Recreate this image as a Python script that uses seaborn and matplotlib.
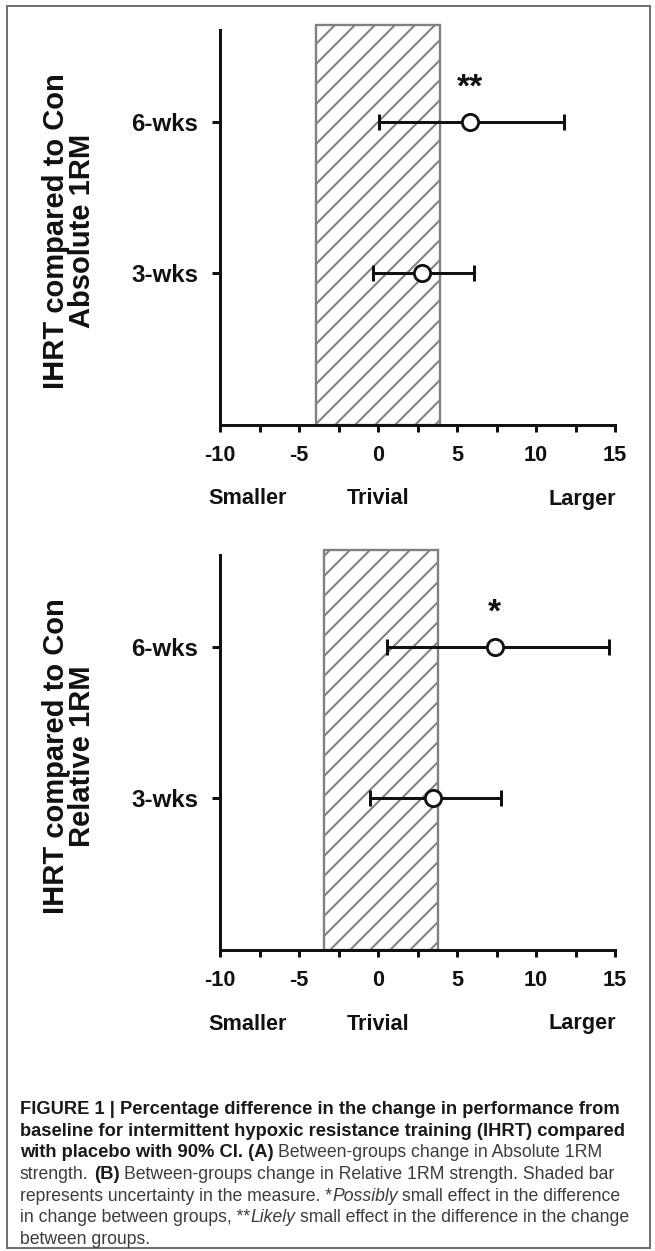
import matplotlib
matplotlib.use('Agg')
import matplotlib.pyplot as plt
import matplotlib.transforms as mtransforms
from matplotlib.patches import Rectangle
import numpy as np
import pandas as pd
import seaborn as sns

# ---- data ----
weeks = ['3-wks', '6-wks']
week_pos = [1, 2]

abs_mean = [2.8, 5.8]
abs_lo = [-0.3, 0.05]
abs_hi = [6.1, 11.8]
abs_trivial = (-3.9, 3.95)
abs_star = ['', '**']

rel_mean = [3.5, 7.4]
rel_lo = [-0.5, 0.6]
rel_hi = [7.8, 14.6]
rel_trivial = (-3.4, 3.8)
rel_star = ['', '*']

panel_titles = [('IHRT compared to Con', 'Absolute 1RM'),
                ('IHRT compared to Con', 'Relative 1RM')]

effect_labels = ['Smaller', 'Trivial', 'Larger']
effect_x = [-8.25, 0, 12.9]

xticks = [-10, -5, 0, 5, 10, 15]

caption = [
    [('FIGURE 1 | Percentage difference in the change in performance from', 'bold', 'normal')],
    [('baseline for intermittent hypoxic resistance training (IHRT) compared', 'bold', 'normal')],
    [('with placebo with 90% CI. (A)', 'bold', 'normal'),
     (' Between-groups change in Absolute 1RM', 'normal', 'normal')],
    [('strength.', 'normal', 'normal'), (' (B)', 'bold', 'normal'),
     (' Between-groups change in Relative 1RM strength. Shaded bar', 'normal', 'normal')],
    [('represents uncertainty in the measure. *', 'normal', 'normal'),
     ('Possibly', 'normal', 'italic'),
     (' small effect in the difference', 'normal', 'normal')],
    [('in change between groups, **', 'normal', 'normal'),
     ('Likely', 'normal', 'italic'),
     (' small effect in the difference in the change', 'normal', 'normal')],
    [('between groups.', 'normal', 'normal')],
]

# ---- style ----
sns.set_style('ticks')
plt.rcParams['font.family'] = ['Liberation Sans', 'DejaVu Sans']
plt.rcParams['hatch.linewidth'] = 1.2
plt.rcParams['hatch.color'] = '#808080'

DPI = 120
W, H = 655, 1251
fig = plt.figure(figsize=(W / DPI, H / DPI), dpi=DPI)
fig.patch.set_facecolor('white')

ink = '#111111'
grey = '#808080'


def fx(px):
    return px / W


def fy(px):
    return 1 - px / H


def draw_panel(bottom_px, mean, lo, hi, trivial, stars, title, star_y):
    ax = fig.add_axes([fx(220), fy(bottom_px), 395 / W, 400 / H])
    df = pd.DataFrame({'week': weeks, 'pos': week_pos, 'mean': mean,
                       'lo': lo, 'hi': hi})

    # trivial band
    band = ax.axvspan(trivial[0], trivial[1], ymin=0, ymax=1, facecolor='white',
                      edgecolor=grey, hatch='//', linewidth=1.4, zorder=1)
    band.set_clip_on(False)

    # 90% CI
    ax.errorbar(df['mean'], df['pos'],
                xerr=[df['mean'] - df['lo'], df['hi'] - df['mean']],
                fmt='none', ecolor=ink, elinewidth=1.8, capsize=5,
                capthick=1.8, zorder=3)
    sns.scatterplot(data=df, x='mean', y='pos', ax=ax, s=95, marker='o',
                    facecolor='white', edgecolor=ink, linewidth=1.7,
                    zorder=4, clip_on=False)

    for xv, yv, st in zip(mean, star_y, stars):
        if st:
            ax.text(xv, yv, st, ha='center', va='baseline', fontsize=20,
                    fontweight='bold', color=ink)

    ax.set_xlim(-10, 15)
    ax.set_ylim(0, 2.64)
    ax.set_xticks(xticks)
    ax.set_xticks(np.arange(-7.5, 15, 5), minor=True)
    ax.set_xticklabels([str(t) for t in xticks], fontsize=13,
                       fontweight='bold', color=ink)
    ax.set_yticks(week_pos)
    ax.set_yticklabels(weeks, fontsize=14.5, fontweight='bold', color=ink)
    ax.tick_params(axis='x', which='both', direction='out', length=4.2,
                   width=1.8, color=ink, pad=8)
    ax.tick_params(axis='y', direction='out', length=5, width=1.8,
                   color=ink, pad=8)
    ax.set_xlabel('')
    ax.set_ylabel('')
    for side in ['top', 'right']:
        ax.spines[side].set_visible(False)
    for side in ['left', 'bottom']:
        ax.spines[side].set_linewidth(1.8)
        ax.spines[side].set_color(ink)
    ax.spines['left'].set_bounds(0, 2.607)
    ax.spines['bottom'].set_bounds(-10, 15)

    trans = mtransforms.blended_transform_factory(ax.transData, ax.transAxes)
    for lab, xv in zip(effect_labels, effect_x):
        ax.text(xv, -0.185, lab, transform=trans, ha='center', va='center',
                fontsize=13, fontweight='bold', color=ink)

    centre = bottom_px - 194
    fig.text(fx(56), fy(centre), title[0], rotation=90, ha='center',
             va='center', fontsize=17.5, fontweight='bold', color=ink)
    fig.text(fx(82), fy(centre), title[1], rotation=90, ha='center',
             va='center', fontsize=17.5, fontweight='bold', color=ink)
    return ax


draw_panel(425, abs_mean, abs_lo, abs_hi, abs_trivial, abs_star, panel_titles[0],
           [2.17, 2.17])
draw_panel(950, rel_mean, rel_lo, rel_hi, rel_trivial, rel_star, panel_titles[1],
           [2.17, 2.17])

# ---- caption, drawn run by run ----
renderer = fig.canvas.get_renderer()
cap_sizes = {'bold': 11.0, 'normal': 10.55}


def text_width(s, weight, style):
    t = fig.text(0, 0, s, fontsize=cap_sizes[weight], fontweight=weight,
                 fontstyle=style)
    w = t.get_window_extent(renderer=renderer).width
    t.remove()
    return w


base0, step = 1114, 21.7
for i, line in enumerate(caption):
    xpos = 20.0
    ypos = base0 + i * step
    for text, weight, style in line:
        if text.startswith(' '):
            xpos += text_width('n n', weight, style) - text_width('nn', weight, style)
            text = text.lstrip(' ')
        colour = '#1a1a1a' if weight == 'bold' else '#3c3c3c'
        t = fig.text(fx(xpos), fy(ypos), text, ha='left', va='baseline',
                     fontsize=cap_sizes[weight], fontweight=weight,
                     fontstyle=style, color=colour)
        xpos += t.get_window_extent(renderer=renderer).width

# frame round the figure
fig.add_artist(Rectangle((fx(7), fy(1248)), (650 - 7) / W, (1248 - 6) / H,
                         transform=fig.transFigure, fill=False,
                         edgecolor='#707070', linewidth=1.2))

fig.savefig('out.png', dpi=DPI, facecolor='white')
